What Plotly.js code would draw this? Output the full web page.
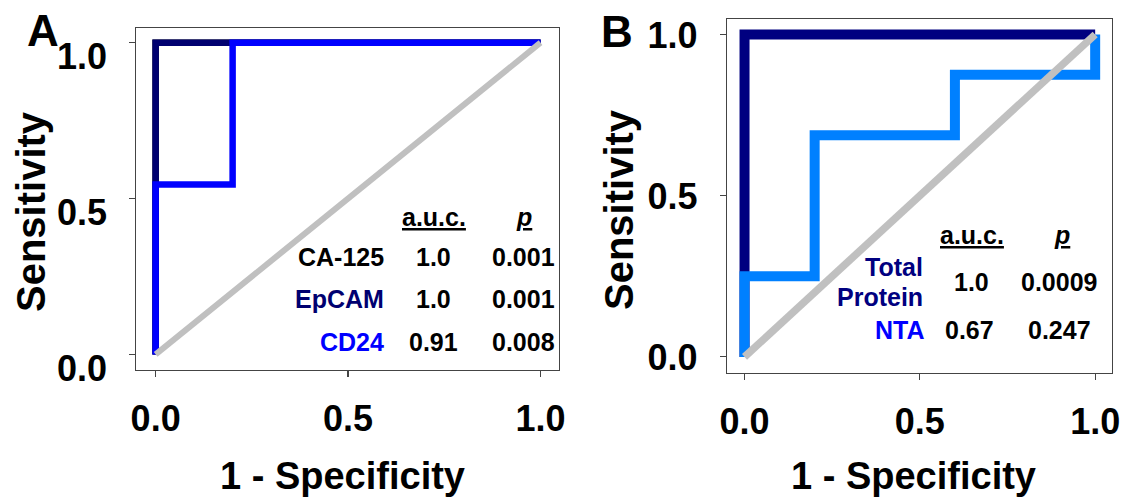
<!DOCTYPE html>
<html>
<head>
<meta charset="utf-8">
<script src="https://cdn.plot.ly/plotly-3.0.1.min.js"></script>
<style>html,body{margin:0;padding:0;background:#fff}#chart{width:1122px;height:499px}</style>
</head>
<body>
<div id="chart"></div>
<script>
// ---------- data ----------
// Panel A (ROC curves)
const caX    = [0, 0, 1];
const caY    = [0, 1, 1];
const epcamX = [0, 0, 1];
const epcamY = [0, 1, 1];
const cd24X  = [0, 0, 0.2, 0.2, 1];
const cd24Y  = [0, 0.545, 0.545, 1, 1];
// Panel B
const tpX    = [0, 0, 1];
const tpY    = [0, 1, 1];
const ntaX   = [0, 0, 0.2, 0.2, 0.6, 0.6, 1, 1];
const ntaY   = [0, 0.25, 0.25, 0.6875, 0.6875, 0.875, 0.875, 1];
const refX   = [0, 1];
const refY   = [0, 1];
// tick labels
const tickVals = [0, 0.5, 1];
const tickText = ['0.0', '0.5', '1.0'];
// tables
const tableA = {
  names: ['CA-125', 'EpCAM', 'CD24'],
  auc:   ['1.0', '1.0', '0.91'],
  p:     ['0.001', '0.001', '0.008']
};
const tableB = {
  names: ['Total Protein', 'NTA'],
  auc:   ['1.0', '0.67'],
  p:     ['0.0009', '0.247']
};

// ---------- layout helpers ----------
const W = 1122, H = 499;
const px = x => x / W;
const py = y => 1 - y / H;
const FONT = 'Liberation Sans, Arial, Helvetica, sans-serif';

const navyA = '#000070', blueA = '#0000FF';
const navyB = '#000080', lightB = '#0080FF';
const grey = '#C0C0C0';

function line(x, y, color, width, xa, ya) {
  return {x, y, xaxis: xa, yaxis: ya, type: 'scatter', mode: 'lines',
          line: {color, width, shape: 'linear'}, hoverinfo: 'skip', showlegend: false};
}

const traces = [
  line(caX, caY, '#000000', 6.5, 'x', 'y'),
  line(epcamX, epcamY, navyA, 6.5, 'x', 'y'),
  line(cd24X, cd24Y, blueA, 6.5, 'x', 'y'),
  line(refX, refY, grey, 6, 'x', 'y'),
  line(tpX, tpY, navyB, 10, 'x2', 'y2'),
  line(ntaX, ntaY, lightB, 10, 'x2', 'y2'),
  line(refX, refY, grey, 7.5, 'x2', 'y2')
];

function axis(domain, anchor, shift, standoff) {
  return {
    domain, anchor, range: [-0.05, 1.048], tickvals: tickVals, ticktext: tickText,
    showgrid: false, zeroline: false, showline: true, mirror: true,
    linecolor: '#444', linewidth: 1.2, ticks: 'outside', ticklen: 6, tickwidth: 1.2, tickcolor: '#444',
    tickfont: {family: FONT, size: 36, color: '#000', weight: 'bold'},
    ticklabelshift: shift, ticklabelstandoff: standoff, fixedrange: true
  };
}

const layout = {
  width: W, height: H, margin: {l: 0, r: 0, t: 0, b: 0},
  paper_bgcolor: '#fff', plot_bgcolor: '#fff', showlegend: false,
  font: {family: FONT, color: '#000'},
  xaxis:  axis([136.4 / W, 559 / W], 'y', 0, 11),
  yaxis:  axis([1 - 370 / H, 1 - 27.7 / H], 'x', 14, 15),
  xaxis2: axis([727 / W, 1112 / W], 'y2', 0, 11),
  yaxis2: axis([1 - 373 / H, 1 - 19 / H], 'x2', 1, 15),
  annotations: []
};

function ann(text, x, y, opts) {
  layout.annotations.push(Object.assign({
    text, xref: 'paper', yref: 'paper', x: px(x), y: py(y),
    xanchor: 'center', yanchor: 'middle', showarrow: false,
    font: {family: FONT, size: 25, color: '#000', weight: 'bold'}
  }, opts || {}));
}
function bigFont(size) { return {family: FONT, size, color: '#000', weight: 'bold'}; }

// panel letters
ann('A', 42.7, 31, {font: bigFont(44)});
ann('B', 616.6, 32, {font: bigFont(44)});
// axis titles
ann('1 - Specificity', 342, 476, {font: bigFont(38)});
ann('1 - Specificity', 913.4, 476, {font: bigFont(38)});
ann('Sensitivity', 31, 212, {font: bigFont(40), textangle: -90});
ann('Sensitivity', 619, 209, {font: bigFont(40), textangle: -90});

// table A
const colA = ['#000000', navyA, blueA];
const rowA = [257, 299, 342];
ann('<u>a.u.c.</u>', 434, 217);
ann('<u><i>p</i></u>', 523.6, 217);
tableA.names.forEach((n, i) => {
  ann(n, 386, rowA[i], {xanchor: 'right', font: {family: FONT, size: 25, color: colA[i], weight: 'bold'}});
  ann(tableA.auc[i], 434, rowA[i]);
  ann(tableA.p[i], 523.6, rowA[i]);
});

// table B
ann('<u>a.u.c.</u>', 972, 235);
ann('<u><i>p</i></u>', 1062, 235);
const tpWords = tableB.names[0].split(' ');
ann(tpWords[0], 925, 267, {xanchor: 'right', font: {family: FONT, size: 25, color: navyB, weight: 'bold'}});
ann(tpWords[1], 925, 297, {xanchor: 'right', font: {family: FONT, size: 25, color: navyB, weight: 'bold'}});
ann(tableB.auc[0], 971, 282);
ann(tableB.p[0], 1059, 282);
ann(tableB.names[1], 927, 330, {xanchor: 'right', font: {family: FONT, size: 25, color: '#0000FF', weight: 'bold'}});
ann(tableB.auc[1], 969, 330);
ann(tableB.p[1], 1059, 330);

Plotly.newPlot('chart', traces, layout, {staticPlot: true, displayModeBar: false});
</script>
</body>
</html>
